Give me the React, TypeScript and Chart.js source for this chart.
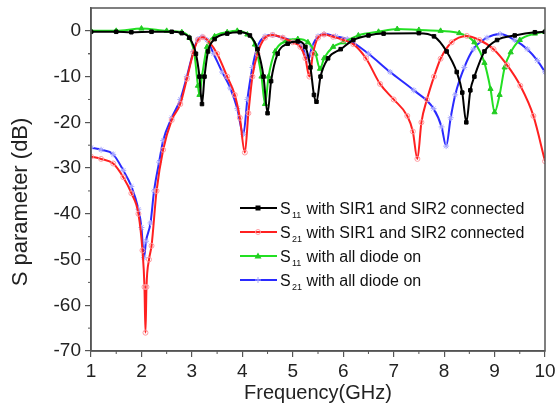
import React, { useEffect, useRef } from "react";
import { Chart, registerables } from "chart.js";

Chart.register(...registerables);

const xTicks = [1, 2, 3, 4, 5, 6, 7, 8, 9, 10];
const yTicks = [-70, -60, -50, -40, -30, -20, -10, 0];

const blackF = [1.0, 1.5, 1.8, 2.2, 2.6, 2.8, 2.95, 3.08, 3.15, 3.2, 3.25, 3.32, 3.45, 3.7, 3.95, 4.15, 4.3, 4.42, 4.5, 4.57, 4.7, 4.9, 5.1, 5.25, 5.35, 5.42, 5.47, 5.55, 5.7, 5.95, 6.2, 6.5, 6.8, 7.5, 7.8, 8.05, 8.25, 8.36, 8.44, 8.52, 8.6, 8.8, 9.05, 9.4, 9.8, 10];
const blackDb = [-0.2, -0.2, -0.3, -0.2, -0.2, -0.5, -1.5, -5, -10, -16, -10, -4.5, -1.8, -0.6, -0.3, -1.0, -4, -10, -18, -11, -5, -2.8, -2.3, -3.5, -8, -14, -15.5, -10, -6, -4, -2, -1, -0.6, -0.5, -1.2, -4.5, -9, -13.5, -20, -13, -10, -4.5, -2, -1, -0.3, -0.2];

const redF = [1.0, 1.2, 1.44, 1.64, 1.8, 1.94, 2.02, 2.06, 2.08, 2.1, 2.15, 2.2, 2.3, 2.43, 2.6, 2.77, 2.9, 3.03, 3.12, 3.22, 3.35, 3.5, 3.7, 3.85, 3.95, 4.05, 4.12, 4.2, 4.3, 4.45, 4.6, 4.8, 5.0, 5.15, 5.25, 5.33, 5.4, 5.5, 5.62, 5.8, 6.0, 6.2, 6.45, 6.73, 7.0, 7.27, 7.38, 7.47, 7.55, 7.66, 7.8, 7.93, 8.15, 8.45, 8.7, 8.98, 9.25, 9.51, 9.77, 10];
const redDb = [-27.5, -28, -29, -32, -35.5, -40, -48, -56, -66, -56, -50, -47, -35, -26, -19.5, -16, -10.5, -4.7, -2, -1.4, -2.5, -5, -10, -14, -19, -26.6, -18, -10, -5, -1.5, -0.9, -1.5, -2.5, -3.5, -6, -10, -5, -1.5, -0.8, -1.3, -2, -2.9, -6, -11.6, -15, -18.6, -22, -28, -20, -15, -10, -6.1, -2.5, -1.1, -2, -4, -7.5, -12, -18.6, -28.5];

const greenF = [1.0, 1.5, 2.0, 2.5, 2.8, 2.95, 3.05, 3.12, 3.15, 3.2, 3.3, 3.45, 3.7, 3.9, 4.1, 4.25, 4.38, 4.45, 4.52, 4.65, 4.85, 5.1, 5.3, 5.45, 5.54, 5.62, 5.8, 6.0, 6.3, 6.7, 7.07, 7.5, 7.93, 8.3, 8.6, 8.8, 8.92, 9.0, 9.1, 9.2, 9.32, 9.5, 9.8, 10];
const greenDb = [0, 0, 0.5, 0, -0.3, -1.5, -5, -12, -14, -10, -3.5, -1.2, -0.3, 0, -0.8, -3, -10, -16, -10, -4.5, -2.3, -1.8, -2.5, -5, -8.3, -6, -3.5, -2.5, -1, -0.2, 0.4, 0.2, 0, -0.5, -2.5, -7, -12.7, -17.8, -14, -8, -4.7, -2, -0.6, -0.2];

const blueF = [1.0, 1.2, 1.44, 1.64, 1.8, 1.94, 2.0, 2.05, 2.09, 2.18, 2.25, 2.35, 2.43, 2.6, 2.77, 2.9, 3.03, 3.12, 3.2, 3.3, 3.43, 3.6, 3.76, 3.9, 4.02, 4.1, 4.2, 4.3, 4.45, 4.6, 4.8, 5.0, 5.15, 5.25, 5.3, 5.38, 5.5, 5.62, 5.85, 6.08, 6.5, 6.93, 7.4, 7.79, 7.95, 8.04, 8.13, 8.22, 8.4, 8.58, 8.85, 9.11, 9.4, 9.65, 9.85, 10];
const blueDb = [-25.5, -26, -27, -30.5, -34, -39, -43, -49.6, -46, -42, -35, -28.7, -24, -19, -15, -10, -4.5, -1.8, -1.3, -2.0, -5, -9, -12.5, -17, -22.6, -15, -8, -3.5, -1.2, -0.9, -1.5, -2.2, -3, -5, -6.5, -3.5, -1.2, -0.7, -1.2, -1.8, -5, -9, -13, -17, -21, -25.2, -19, -14, -8, -4, -1.5, -0.7, -2, -4, -6.5, -9];

const seriesLabels = [
  ["11", " with SIR1 and SIR2 connected"],
  ["21", " with SIR1 and SIR2 connected"],
  ["11", " with all diode on"],
  ["21", " with all diode on"],
];

const FONT = "'Liberation Sans', Arial, sans-serif";

const toPts = (f: number[], d: number[]) => f.map((x, i) => ({ x, y: d[i] }));

const styles = [
  { color: "#000000", marker: "rect", mColor: "#000000", mFill: "#000000", r: 2.5 },
  { color: "#ff2020", marker: "circle", mColor: "#ff9aa0", mFill: "rgba(0,0,0,0)", r: 2.5 },
  { color: "#22e022", marker: "triangle", mColor: "#22cc22", mFill: "#22cc22", r: 3 },
  { color: "#2a2aff", marker: "star", mColor: "#a8a8ff", mFill: "rgba(0,0,0,0)", r: 3 },
];

const extrasPlugin = {
  id: "extras",
  afterDraw(chart: any) {
    const { ctx, chartArea } = chart;
    const { left, right, top, bottom } = chartArea;
    const xs = chart.scales.x;
    const ys = chart.scales.y;
    ctx.save();
    ctx.strokeStyle = "#555";
    ctx.lineWidth = 1.5;
    ctx.strokeRect(left, top, right - left, bottom - top);
    ctx.lineWidth = 1;
    ctx.beginPath();
    for (let v = 1.5; v < 10; v += 1) {
      const px = xs.getPixelForValue(v);
      ctx.moveTo(px, bottom);
      ctx.lineTo(px, bottom + 3);
    }
    for (let v = -65; v < 0; v += 10) {
      const py = ys.getPixelForValue(v);
      ctx.moveTo(left, py);
      ctx.lineTo(left - 3, py);
    }
    ctx.moveTo(left, ys.getPixelForValue(-5));
    ctx.lineTo(left - 3, ys.getPixelForValue(-5));
    ctx.stroke();

    // axis titles
    ctx.fillStyle = "#222";
    ctx.font = `20px ${FONT}`;
    ctx.textAlign = "center";
    ctx.textBaseline = "middle";
    ctx.fillText("Frequency(GHz)", (left + right) / 2, 393);
    ctx.save();
    ctx.translate(21, 202);
    ctx.rotate(-Math.PI / 2);
    ctx.font = `22px ${FONT}`;
    ctx.fillText("S parameter (dB)", 0, 0);
    ctx.restore();

    // legend
    const rows = [208, 232, 256, 280];
    rows.forEach((yy, i) => {
      const st = styles[i];
      ctx.strokeStyle = st.color;
      ctx.lineWidth = 2;
      ctx.beginPath();
      ctx.moveTo(240, yy);
      ctx.lineTo(277, yy);
      ctx.stroke();
      ctx.strokeStyle = st.mColor;
      ctx.fillStyle = st.mFill;
      ctx.lineWidth = 1;
      const mx = 258;
      ctx.beginPath();
      if (st.marker === "rect") {
        ctx.fillRect(mx - 2.5, yy - 2.5, 5, 5);
      } else if (st.marker === "circle") {
        ctx.arc(mx, yy, 2.5, 0, Math.PI * 2);
        ctx.stroke();
      } else if (st.marker === "triangle") {
        ctx.moveTo(mx, yy - 3.5);
        ctx.lineTo(mx + 3.5, yy + 2.5);
        ctx.lineTo(mx - 3.5, yy + 2.5);
        ctx.closePath();
        ctx.fill();
      } else {
        ctx.moveTo(mx - 3, yy); ctx.lineTo(mx + 3, yy);
        ctx.moveTo(mx, yy - 3); ctx.lineTo(mx, yy + 3);
        ctx.stroke();
      }
      ctx.fillStyle = "#111";
      ctx.textAlign = "left";
      ctx.textBaseline = "alphabetic";
      ctx.font = `16px ${FONT}`;
      ctx.fillText("S", 280, yy + 6);
      ctx.font = `9px ${FONT}`;
      ctx.fillText(seriesLabels[i][0], 292, yy + 10);
      ctx.font = `16px ${FONT}`;
      ctx.fillText(seriesLabels[i][1], 302, yy + 6);
    });
    ctx.restore();
  },
};

export default function App() {
  const ref = useRef<HTMLCanvasElement | null>(null);
  useEffect(() => {
    if (!ref.current) return;
    const data = [toPts(blackF, blackDb), toPts(redF, redDb), toPts(greenF, greenDb), toPts(blueF, blueDb)];
    const chart = new Chart(ref.current, {
      type: "line",
      data: {
        datasets: data.map((d, i) => ({
          label: "S" + seriesLabels[i][0] + seriesLabels[i][1],
          data: d,
          borderColor: styles[i].color,
          borderWidth: 2,
          cubicInterpolationMode: "monotone" as const,
          pointStyle: styles[i].marker as any,
          pointRadius: styles[i].r,
          pointBorderColor: styles[i].mColor,
          pointBackgroundColor: styles[i].mFill,
          pointBorderWidth: 1,
          fill: false,
        })),
      },
      options: {
        animation: false,
        responsive: false,
        maintainAspectRatio: false,
        layout: { padding: { top: 8, right: 10, left: 0, bottom: 0 } },
        plugins: { legend: { display: false }, tooltip: { enabled: false } },
        scales: {
          x: {
            type: "linear",
            min: 1,
            max: 10,
            afterBuildTicks: (s: any) => { s.ticks = xTicks.map((v) => ({ value: v })); },
            afterFit: (s: any) => { s.height = 60; s.paddingLeft = 0; s.paddingRight = 0; },
            ticks: { font: { family: FONT, size: 19 }, color: "#222", padding: 3, maxRotation: 0, autoSkip: false },
            grid: { drawOnChartArea: false, tickLength: 6, color: "#555", lineWidth: 1.2 },
            border: { color: "#555", width: 1.5 },
          },
          y: {
            type: "linear",
            min: -70,
            max: 5,
            afterBuildTicks: (s: any) => { s.ticks = yTicks.map((v) => ({ value: v })); },
            afterFit: (s: any) => { s.width = 91; s.paddingTop = 0; s.paddingBottom = 0; },
            ticks: { font: { family: FONT, size: 19 }, color: "#222", padding: 4 },
            grid: { drawOnChartArea: false, tickLength: 6, color: "#555", lineWidth: 1.2 },
            border: { color: "#555", width: 1.5 },
          },
        },
      },
      plugins: [extrasPlugin],
    });
    return () => chart.destroy();
  }, []);
  return (
    <div style={{ position: "fixed", left: 0, top: 0, width: 555, height: 411, background: "#fff" }}>
      <canvas ref={ref} width={555} height={411} style={{ width: 555, height: 411 }} />
    </div>
  );
}
